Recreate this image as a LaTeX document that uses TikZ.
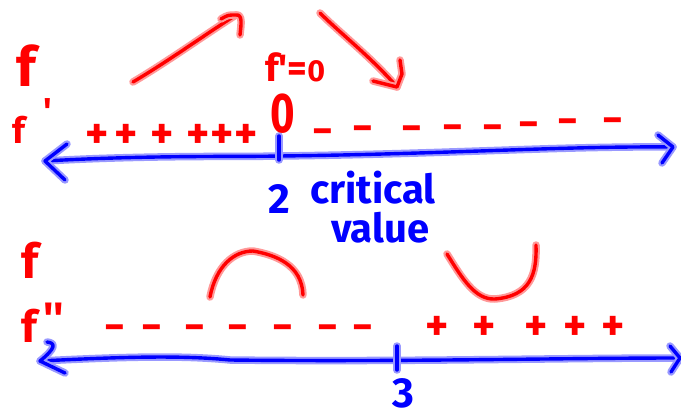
\documentclass[tikz,border=0pt]{standalone}
\usepackage{fontspec}
\setmainfont{Fira Sans}
\tikzset{
  redpen/.style={draw=red, line width=3.4pt, line cap=round, line join=round,
    preaction={draw=red!40, line width=7.5pt, line cap=round, line join=round}},
  bluepen/.style={draw=blue, line width=3.4pt, line cap=round, line join=round,
    preaction={draw=blue!40, line width=7.5pt, line cap=round, line join=round}},
  redtxt/.style={text=red, inner sep=0pt, font=\bfseries\fontsize{#1}{#1}\selectfont},
  bluetxt/.style={text=blue, inner sep=0pt, font=\bfseries\fontsize{#1}{#1}\selectfont},
}
\begin{document}
\begin{tikzpicture}[x=1pt, y=-1pt]
\useasboundingbox (0,0) rectangle (681,420);

% ---------- top chart ----------
\coordinate (tl) at (45,161);
\coordinate (tr) at (673,147);
\coordinate (tt1) at (279,136);
\coordinate (tt2) at (279,160);
\draw[bluepen] (tl) .. controls (150,155) and (240,157) .. (280,156)
               .. controls (450,154) and (560,146) .. (tr);
\draw[bluepen] (67,144) -- (tl) -- (65,180);
\draw[bluepen] (658,135) -- (tr) -- (662,163);
\draw[bluepen] (tt1) -- (tt2);

% arrows
\coordinate (ua) at (133,82);
\coordinate (ub) at (236,15);
\draw[redpen] (ua) .. controls (170,60) and (200,38) .. (ub);
\draw[redpen] (221,19) .. controls (228,15) .. (ub) .. controls (243,14) and (241,25) .. (240,35);
\coordinate (da) at (320,13);
\coordinate (db) at (397,87);
\draw[redpen] (da) .. controls (340,33) and (372,58) .. (db);
\draw[redpen] (400,60) -- (402,74) -- (db) -- (373,81);

% labels
\node[redtxt=55pt, anchor=base west] (f1) at (16,87) {f};
\node[redtxt=36pt, anchor=base west] (f1p) at (12,143) {f\hspace{0.5em}\raisebox{0.55em}{\textquotesingle}};
\node[redtxt=38pt, anchor=base west] (fpz) at (265,82) {f\textquotesingle=\scalebox{0.8}{0}};
\node[redtxt=56pt, anchor=base] (zero) at (283,132) {\scalebox{0.75}[1]{0}};

\foreach \x [count=\i] in {97,126,162,198,222,246}
  \node[redtxt=44pt, anchor=base] (tp\i) at (\x,148) {+};
\foreach \x/\y [count=\i] in {323/145,363/142,412/142,453/140,493/140,529/138,568/135,613/134}
  \node[redtxt=40pt, anchor=base] (tm\i) at (\x,\y) {−};

\node[bluetxt=42pt, anchor=base west] (two) at (268,213) {2};
\node[bluetxt=40pt, anchor=base west] (crit) at (310,203) {critical};
\node[bluetxt=40pt, anchor=base west] (val) at (331,242) {value};

% ---------- bottom chart ----------
\coordinate (bl) at (40,361);
\coordinate (br) at (680,358);
\coordinate (bt1) at (397,346);
\coordinate (bt2) at (397,370);
\draw[bluepen] (bl) .. controls (120,357) and (180,355) .. (230,360)
               .. controls (400,362) and (560,358) .. (br);
\draw[bluepen] (47,342) .. controls (56,343) and (56,348) .. (bl) -- (65,373);
\draw[bluepen] (670,346) -- (br) -- (671,372);
\draw[bluepen] (bt1) -- (bt2);

\draw[redpen] (210,297) .. controls (216,266) and (234,251) .. (253,251)
              .. controls (276,255) and (302,265) .. (303,295);
\draw[redpen] (447,254) .. controls (462,278) and (475,300) .. (495,299)
              .. controls (530,296) and (537,275) .. (536,245);

\node[redtxt=48pt, anchor=base west] (f2) at (21,278) {f};
\node[redtxt=44pt, anchor=base west] (f2pp) at (21,342) {f\hspace{0.15em}\raisebox{0.2em}{\textquotesingle\textquotesingle}};

\foreach \x [count=\i] in {115,152,195,238,283,328,363}
  \node[redtxt=40pt, anchor=base] (bm\i) at (\x,340) {−};
\foreach \x [count=\i] in {437,484,536,575,613}
  \node[redtxt=44pt, anchor=base] (bp\i) at (\x,340) {+};

\node[bluetxt=42pt, anchor=base] (three) at (403,407) {3};
\end{tikzpicture}
\end{document}
